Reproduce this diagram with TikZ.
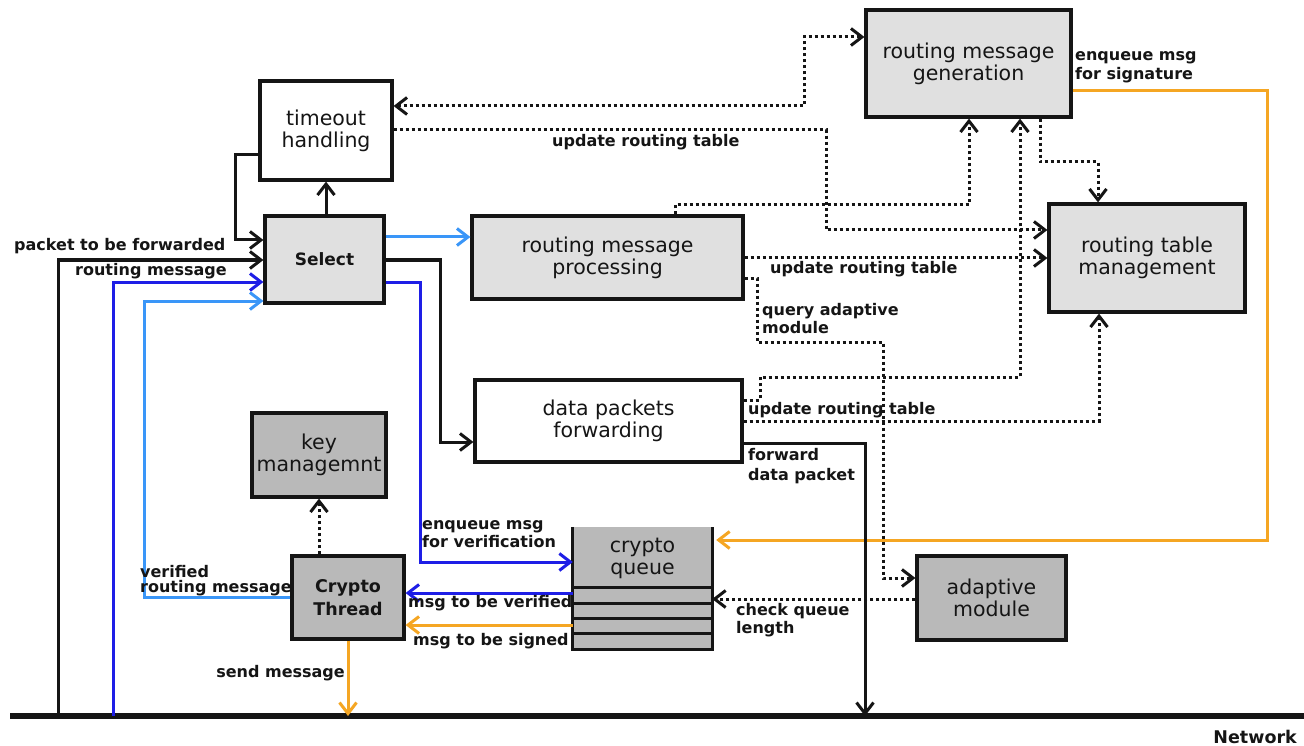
\documentclass[tikz,border=0pt]{standalone}
\usepackage{fontspec}
\setmainfont{DejaVu Sans}
\usetikzlibrary{arrows.meta}
\definecolor{lgray}{HTML}{E0E0E0}
\definecolor{dgray}{HTML}{B9B9B9}
\definecolor{dblue}{HTML}{1E1EE6}
\definecolor{lblue}{HTML}{3A96F8}
\definecolor{orng}{HTML}{F5A623}
\definecolor{ink}{HTML}{151515}
\tikzset{
  box/.style={draw=ink, line width=3.2pt, inner sep=0pt, align=center, text=ink,
    font=\fontsize{20.5}{22}\selectfont},
  lgbox/.style={box, fill=lgray},
  dgbox/.style={box, fill=dgray},
  wbox/.style={box, fill=white},
  conn/.style={line width=3pt, draw=ink},
  arr/.style={-{Straight Barb[length=11pt,width=17pt]}},
  dots/.style={conn, line width=3pt, dash pattern=on 3pt off 3pt},
  lbl/.style={font=\bfseries\fontsize{16}{17}\selectfont, inner sep=0pt,
    align=left, anchor=west, text=ink},
  bus/.style={line width=6pt, draw=ink}
}
\begin{document}
\begin{tikzpicture}[x=1pt,y=-1pt]
\useasboundingbox[fill=white] (0,0) rectangle (1304,746);

% ---- blocks ----
\node[wbox,  minimum width=132pt, minimum height=99pt]  (timeout) at (326,130.5) {timeout\\handling};
\node[lgbox, minimum width=119pt, minimum height=87pt,
      font=\bfseries\fontsize{17}{20}\selectfont]        (select)  at (324.5,259.5) {Select};
\node[lgbox, minimum width=271pt, minimum height=83pt]  (proc)    at (607.5,257.5) {routing message\\processing};
\node[lgbox, minimum width=205pt, minimum height=107pt] (gen)     at (968.5,63.5) {routing message\\generation};
\node[lgbox, minimum width=196pt, minimum height=108pt] (rtm)     at (1147,258) {routing table\\management};
\node[wbox,  minimum width=267pt, minimum height=82pt]  (dpf)     at (608.5,421) {data packets\\forwarding};
\node[dgbox, minimum width=134pt, minimum height=84pt]  (key)     at (319,455) {key\\managemnt};
\node[dgbox, minimum width=112pt, minimum height=83pt,
      font=\bfseries\fontsize{17.5}{23}\selectfont]      (ct)      at (348,597.5) {Crypto\\Thread};
\node[dgbox, minimum width=149pt, minimum height=84pt]  (adapt)   at (991.5,598) {adaptive\\module};

% crypto queue: open-topped stack of slots
\node[fill=dgray, minimum width=139pt, minimum height=122pt, inner sep=0pt] (queue) at (642.5,588) {};
\node[align=center, inner sep=0pt, text=ink, font=\fontsize{20.5}{22}\selectfont] (queuetext) at (642.5,558) {crypto\\queue};
\draw[line width=3.2pt, draw=ink] (queue.north west) -- (queue.south west) -- (queue.south east) -- (queue.north east);
\foreach \yy in {587,603,618,633}
  \draw[line width=3pt, draw=ink] (queue.west |- 0,\yy) -- (queue.east |- 0,\yy);

% ---- network bus ----
\coordinate (netW) at (10,716);
\coordinate (netE) at (1304,716);
\coordinate (busPkt) at (58,716);
\coordinate (busRt) at (113,716);
\coordinate (busSend) at (348,716);
\coordinate (busFwd) at (865,716);
\draw[bus] (netW) -- (netE);
\node[font=\bfseries\fontsize{17.5}{20}\selectfont, anchor=east, inner sep=0pt, text=ink] (network) at (1297,737) {Network};

% ---- solid connectors ----
\draw[conn, arr] (timeout.south |- select.north) -- (timeout.south);
\draw[conn, arr] (timeout.west |- 0,155) -- (235,155) -- (235,240) -- (select.west |- 0,240);
\draw[conn, arr] (busPkt) |- (select.west |- 0,260);
\draw[conn, arr, draw=dblue] (busRt) |- (select.west |- 0,282);
\draw[conn, arr, draw=lblue] (ct.west) -| (144,301) -- (select.west |- 0,301);
\draw[conn, arr, draw=lblue] (select.east |- 0,237) -- (proc.west |- 0,237);
\draw[conn, arr] (select.east |- 0,260) -| (440,442) -- (dpf.west |- 0,442);
\draw[conn, arr, draw=dblue] (select.east |- 0,282) -| (420,562) -- (queue.west |- 0,562);
\draw[conn, arr, draw=dblue] (queue.west |- 0,593) -- (ct.east |- 0,593);
\draw[conn, arr, draw=orng] (queue.west |- 0,625) -- (ct.east |- 0,625);
\draw[conn, arr, draw=orng] (ct.south) -- (busSend);
\draw[conn, arr, draw=orng] (gen.east |- 0,91) -- (1267,91) -- (1267,540) -- ([xshift=4pt]queue.east |- 0,540);
\draw[conn, arr] (dpf.east |- 0,443) -| (busFwd);

% ---- dotted connectors ----
\draw[dots, arr] (key.south |- ct.north) -- (key.south);
\draw[dots, {Straight Barb[length=11pt,width=17pt]}-{Straight Barb[length=11pt,width=17pt]}]
  (timeout.east |- 0,106) -- (804,106) -- (804,37) -- (gen.west |- 0,37);
\draw[dots, arr] (timeout.east |- 0,130) -| (826,230) -- (rtm.west |- 0,230);
\draw[dots, arr] (proc.north -| 675,0) |- (969,205) -- (gen.south -| 969,0);
\draw[dots, arr] (proc.east |- 0,258) -- (rtm.west |- 0,258);
\draw[dots, arr] (proc.east |- 0,278) -- (757,278) -- (757,342) -- (883,342) -- (883,578) -- (adapt.west |- 0,578);
\draw[dots, arr] (dpf.east |- 0,400) -- (760,400) -- (760,377) -- (1020,377) -- (gen.south -| 1020,0);
\draw[dots, arr] (dpf.east |- 0,421) -| (rtm.south -| 1099,0);
\draw[dots, arr] (gen.south -| 1040,0) -- (1040,162) -| (rtm.north -| 1098,0);
\draw[dots, arr] (adapt.west |- 0,599) -- (queue.east |- 0,599);

% ---- labels ----
\node[lbl] (lPkt)   at (14,246)  {packet to be forwarded};
\node[lbl] (lRt)    at (75,271)  {routing message};
\node[lbl, font=\bfseries\fontsize{16}{15}\selectfont] (lVer) at (140,580.5) {verified\\routing message};
\node[lbl] (lUpd1)  at (552,142) {update routing table};
\node[lbl] (lUpd2)  at (770,269) {update routing table};
\node[lbl, font=\bfseries\fontsize{16}{18}\selectfont] (lQuery) at (762,319) {query adaptive\\module};
\node[lbl] (lUpd3)  at (748,410) {update routing table};
\node[lbl, font=\bfseries\fontsize{16}{20}\selectfont] (lFwd) at (748,466) {forward\\data packet};
\node[lbl, font=\bfseries\fontsize{16}{19}\selectfont] (lSig) at (1075,67.5) {enqueue msg\\for signature};
\node[lbl, font=\bfseries\fontsize{16}{18}\selectfont] (lVerQ) at (422,534) {enqueue msg\\for verification};
\node[lbl] (lToVer) at (408,603) {msg to be verified};
\node[lbl] (lToSig) at (413,641) {msg to be signed};
\node[lbl, font=\bfseries\fontsize{16}{18}\selectfont] (lCheck) at (736,620) {check queue\\length};
\node[lbl, anchor=east] (lSend) at (345,673) {send message};
\end{tikzpicture}
\end{document}
